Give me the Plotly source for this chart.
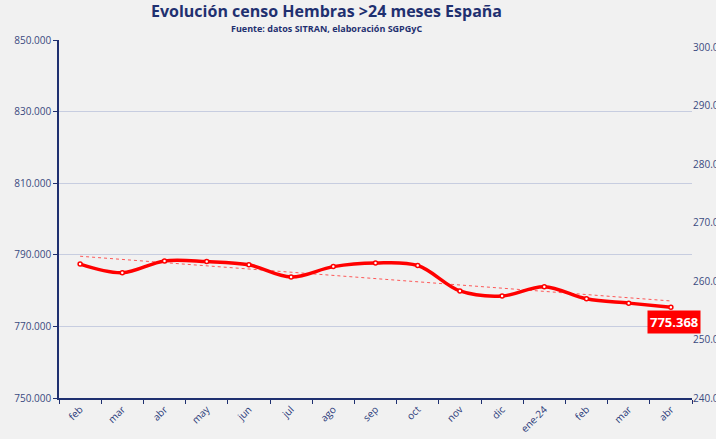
import numpy as np
import plotly.graph_objects as go

meses = ["feb", "mar", "abr", "may", "jun", "jul", "ago", "sep", "oct",
         "nov", "dic", "ene-24", "feb", "mar", "abr"]
censo = [787400, 785000, 788300, 788100, 787200, 783800, 786700, 787700,
         787000, 779900, 778500, 781100, 777700, 776500, 775368]
ticks_izq = [750000, 770000, 790000, 810000, 830000, 850000]
ticks_der = [240, 250, 260, 270, 280, 290, 300]

x = list(range(len(meses)))
pend, orig = np.polyfit(x, censo, 1)
tendencia = [orig + pend * i for i in x]

azul = "#1f3070"
fuente = "Open Sans, Noto Sans, sans-serif"

fig = go.Figure()
fig.add_trace(go.Scatter(x=x, y=tendencia, mode="lines",
    line=dict(color="rgba(255,60,60,0.85)", width=1, dash="dot"),
    hoverinfo="skip", showlegend=False))
fig.add_trace(go.Scatter(x=x, y=censo, mode="lines+markers",
    line=dict(color="#ff0000", width=3.5, shape="spline"),
    marker=dict(size=4, color="white", line=dict(color="#ff0000", width=1.5)),
    showlegend=False))
# eje derecho
fig.add_trace(go.Scatter(x=[0], y=[None], yaxis="y2", showlegend=False, hoverinfo="skip"))

fig.add_annotation(x=x[-1], y=censo[-1], text="<b>775.368</b>", showarrow=False,
    yshift=-15, xshift=3, bgcolor="#ff0000", font=dict(color="white", size=13, family=fuente),
    borderpad=2)

fig.add_annotation(text="<b>Evolución censo Hembras >24 meses España</b>", xref="paper", yref="paper",
    x=0.422, y=1.081, xanchor="center", yanchor="middle", showarrow=False,
    font=dict(size=16, color=azul, family=fuente))
fig.add_annotation(text="<b>Fuente: datos SITRAN, elaboración SGPGyC</b>", xref="paper", yref="paper",
    x=0.422, y=1.031, xanchor="center", yanchor="middle", showarrow=False,
    font=dict(size=9, color=azul, family=fuente))

fig.update_layout(
    width=716, height=439,
    separators=",.",
    paper_bgcolor="#f1f1f1", plot_bgcolor="#f1f1f1",
    margin=dict(l=59, r=24, t=40, b=41),
    font=dict(family=fuente, color=azul),
    xaxis=dict(range=[-0.5, len(meses) - 0.5], tickmode="array", tickvals=x, ticktext=meses,
               tickangle=-45, ticks="", showgrid=False, zeroline=False, automargin=False,
               showline=True, linecolor=azul, linewidth=1.5,
               tickfont=dict(size=10, color="#2a3a7a"),
               minor=dict(tick0=0.5, dtick=1, ticks="outside", ticklen=4, tickcolor=azul, showgrid=False)),
    yaxis=dict(range=[750000, 850000], tickvals=ticks_izq, tickformat=",d", automargin=False,
               showline=True, linecolor=azul, linewidth=1.5, ticks="outside", ticklen=4,
               tickcolor=azul, gridcolor="#c7cde0", gridwidth=1, zeroline=False,
               tickfont=dict(size=10, color="#3a4a80")),
    yaxis2=dict(range=[240, 301.2], overlaying="y", side="right", tickvals=ticks_der, automargin=False,
                ticktext=[f"{v}.000" for v in ticks_der], showgrid=False, zeroline=False,
                showline=False, ticks="", tickfont=dict(size=10, color="#3a4a80")),
)

fig.write_html("out.html", config={"displayModeBar": False},
               post_script="document.body.style.margin='0px';")
